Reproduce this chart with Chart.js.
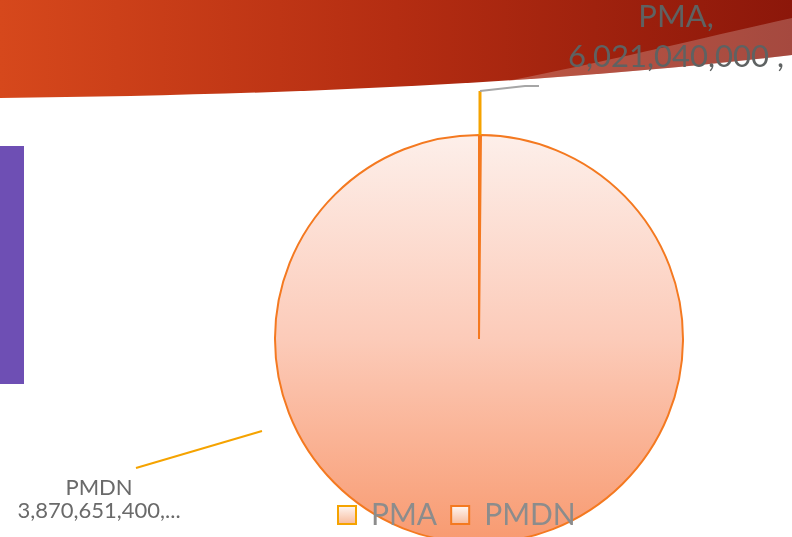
<!DOCTYPE html>
<html>
<head>
<meta charset="utf-8">
<script src="https://cdn.jsdelivr.net/npm/chart.js@4.4.1/dist/chart.umd.min.js"></script>
<style>
  html, body { margin: 0; padding: 0; width: 792px; height: 537px; overflow: hidden; background: #fff; }
  #deco { position: absolute; left: 0; top: 0; }
  #wrap { position: absolute; left: 0; top: 0; width: 792px; height: 540px; }
</style>
</head>
<body>
<!-- slide background: red swoosh + purple side bar -->
<svg id="deco" width="792" height="537">
  <defs>
    <linearGradient id="red" x1="0" y1="0" x2="1" y2="0">
      <stop offset="0" stop-color="#d6481c"/>
      <stop offset="0.5" stop-color="#b42d12"/>
      <stop offset="1" stop-color="#8c170a"/>
    </linearGradient>
    <clipPath id="swClip"><path d="M0,0 H792 V55 C560,82 300,95 0,98 Z"/></clipPath>
  </defs>
  <path d="M0,0 H792 V55 C560,82 300,95 0,98 Z" fill="url(#red)"/>
  <path d="M470,88 C600,64 700,38 792,18 V140 H470 Z" fill="#ffffff" opacity="0.22" clip-path="url(#swClip)"/>
  <rect x="0" y="146" width="24" height="238" fill="#6e4fb4"/>
</svg>
<div id="wrap"><canvas id="chart" width="792" height="540"></canvas></div>

<script>
// ---- data ----
const categories = ['PMA', 'PMDN'];
const investValues = [6021040000, 3870651400000];

// ---- style ----
const PIE_RADIUS = 204;
const sliceBorders = ['#f5a300', '#f47920'];
const LABEL_FONT = 'Lato';

function fmt(v) {
  return v.toLocaleString('en-US');
}

function pieFill(context) {
  const chart = context.chart;
  const area = chart.chartArea;
  if (!area) return '#fccbb9';
  const cy = (area.top + area.bottom) / 2;
  const g = chart.ctx.createLinearGradient(0, cy - PIE_RADIUS, 0, cy + PIE_RADIUS);
  g.addColorStop(0, '#fdefea');
  g.addColorStop(0.5, '#fccbb9');
  g.addColorStop(1, '#f89a70');
  return g;
}

function boxFill(chart) {
  const lg = chart.legend;
  const top = (lg && lg.top) ? lg.top + 20 : chart.height - 34;
  const g = chart.ctx.createLinearGradient(0, top, 0, top + 18);
  g.addColorStop(0, '#fff6f2');
  g.addColorStop(1, '#f7bb9c');
  return g;
}

// draw the legend above the pie, as in the original slide
const legendOnTop = {
  id: 'legendOnTop',
  beforeLayout(chart) {
    const legend = chart.legend;
    if (legend) legend._layers = () => [{ z: 1, draw: (area) => legend.draw(area) }];
  }
};

// data labels with leader lines
const pieLabels = {
  id: 'pieLabels',
  afterDraw(chart) {
    const ctx = chart.ctx;
    const arcs = chart.getDatasetMeta(0).data;
    const pma = arcs[0];
    const cx = pma.x, cy = pma.y, r = pma.outerRadius;

    ctx.save();
    ctx.lineCap = 'butt';

    // PMA
    const mid = (pma.startAngle + pma.endAngle) / 2;
    const ax = cx + Math.cos(mid) * r;
    const ay = cy + Math.sin(mid) * r;
    ctx.strokeStyle = '#f5a300';
    ctx.lineWidth = 3;
    ctx.beginPath();
    ctx.moveTo(ax, ay);
    ctx.lineTo(ax, ay - 44);
    ctx.stroke();
    ctx.strokeStyle = '#a6a6a6';
    ctx.lineWidth = 2;
    ctx.beginPath();
    ctx.moveTo(ax, ay - 44);
    ctx.lineTo(ax + 45, ay - 49);
    ctx.lineTo(ax + 59, ay - 49);
    ctx.stroke();

    ctx.fillStyle = '#5e6262';
    ctx.font = '31px ' + LABEL_FONT;
    ctx.textAlign = 'center';
    ctx.textBaseline = 'alphabetic';
    ctx.fillText(categories[0] + ',', ax + 196, ay - 108);
    ctx.fillText(fmt(investValues[0]) + ' ,', ax + 196, ay - 68);

    // PMDN
    ctx.strokeStyle = '#f5a300';
    ctx.lineWidth = 2;
    ctx.beginPath();
    ctx.moveTo(cx - 217, cy + 92);
    ctx.lineTo(cx - 343, cy + 129);
    ctx.stroke();

    ctx.fillStyle = '#6a6a6a';
    ctx.font = '22px ' + LABEL_FONT;
    ctx.fillText(categories[1], cx - 380, cy + 156);
    ctx.fillText(fmt(investValues[1]).slice(0, 14) + '...', cx - 380, cy + 179);
    ctx.restore();
  }
};

const chart = new Chart(document.getElementById('chart'), {
  type: 'pie',
  data: {
    labels: categories,
    datasets: [{
      data: investValues,
      backgroundColor: pieFill,
      borderColor: sliceBorders,
      borderWidth: 2,
      radius: PIE_RADIUS,
      hoverOffset: 0,
      clip: false
    }]
  },
  options: {
    responsive: false,
    devicePixelRatio: 1,
    animation: false,
    layout: { padding: { left: 324, right: 158, top: 192, bottom: 0 } },
    plugins: {
      tooltip: { enabled: false },
      legend: {
        position: 'bottom',
        align: 'start',
        labels: {
          boxWidth: 18,
          boxHeight: 18,
          padding: 14,
          color: '#8c8c8c',
          font: { family: LABEL_FONT, size: 30 },
          generateLabels(chart) {
            return chart.data.labels.map((text, i) => ({
              text: text,
              index: i,
              fillStyle: boxFill(chart),
              strokeStyle: sliceBorders[i],
              lineWidth: 2,
              fontColor: '#8c8c8c',
              hidden: !chart.getDataVisibility(i)
            }));
          }
        }
      }
    }
  },
  plugins: [legendOnTop, pieLabels]
});
</script>
</body>
</html>
